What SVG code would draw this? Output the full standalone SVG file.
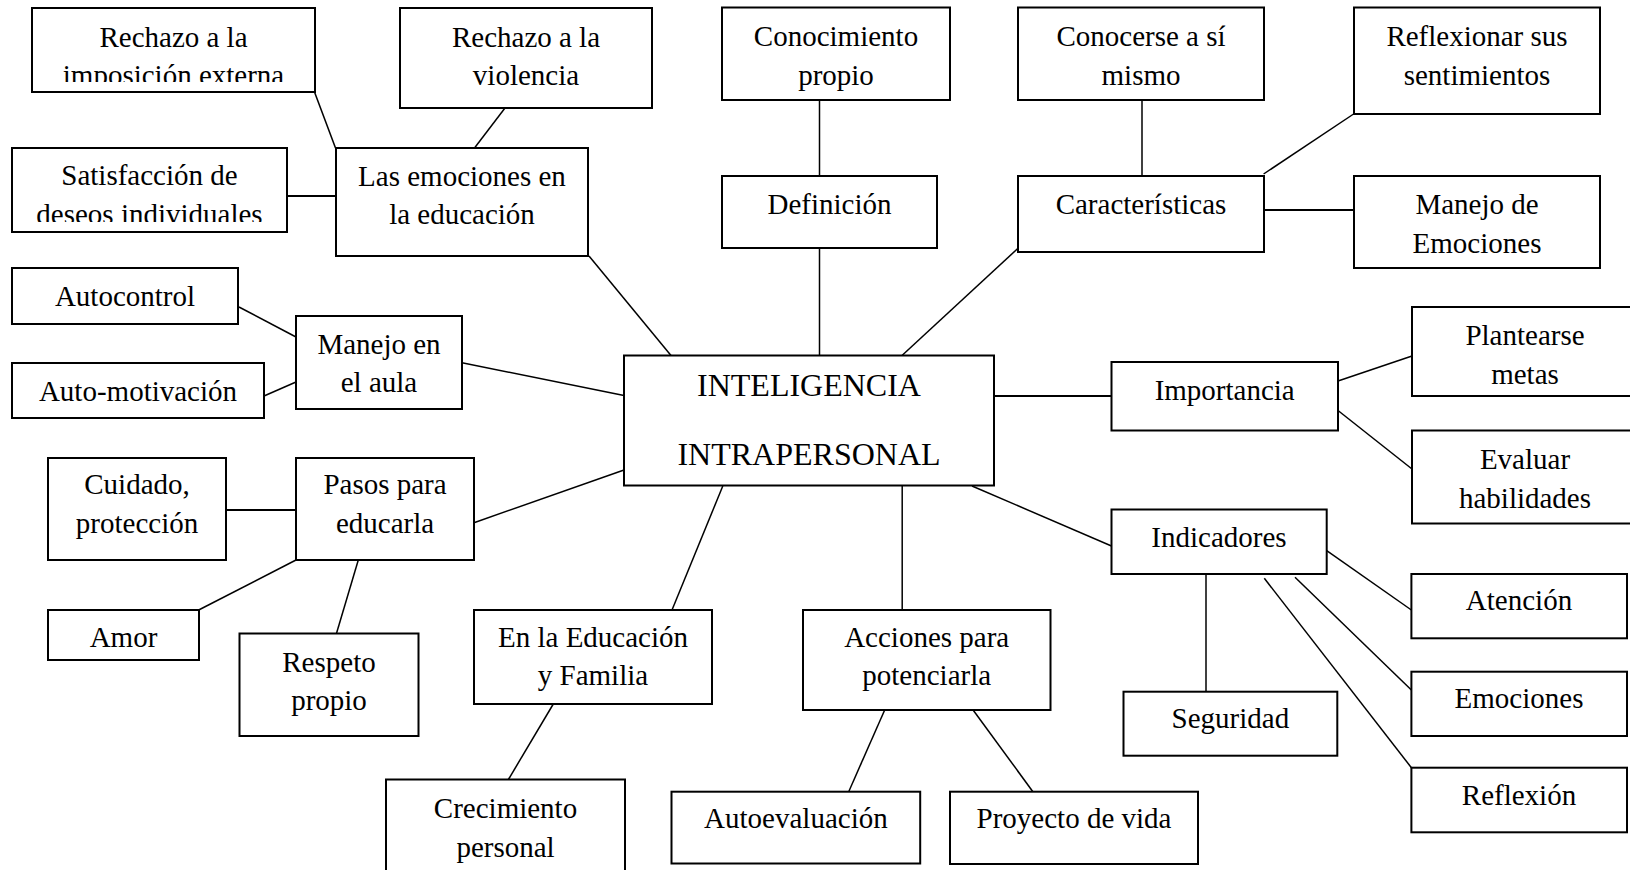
<svg xmlns="http://www.w3.org/2000/svg" width="1630" height="870" viewBox="0 0 1630 870">
<style>
.box{fill:#fff;stroke:#000;stroke-width:2}
.t{font-family:"Liberation Serif","Times New Roman",serif;font-size:29px;fill:#000;text-anchor:middle}
.big{font-size:32px}
.c line{stroke:#000;stroke-width:1.5}
</style>
<defs>
<clipPath id="clipImp"><rect x="32" y="8" width="283" height="74"/></clipPath>
<clipPath id="clipSat"><rect x="12" y="148" width="275" height="74"/></clipPath>
</defs>
<rect width="1630" height="870" fill="#fff"/>
<g class="c" id="connectors">
<line x1="314.5" y1="92" x2="335.5" y2="148"/>
<line x1="505" y1="108" x2="474.5" y2="148"/>
<line x1="287" y1="196" x2="336" y2="196" style="stroke-width:2"/>
<line x1="589" y1="256" x2="671" y2="355.5"/>
<line x1="239" y1="307" x2="296" y2="337"/>
<line x1="264" y1="396" x2="296" y2="382"/>
<line x1="462" y1="362.7" x2="624" y2="395.5"/>
<line x1="819.5" y1="100" x2="819.5" y2="176"/>
<line x1="819.5" y1="248" x2="819.5" y2="355.5"/>
<line x1="1142" y1="100" x2="1142" y2="176"/>
<line x1="1018" y1="248.3" x2="902" y2="355.5"/>
<line x1="1263.6" y1="174" x2="1353.6" y2="114"/>
<line x1="1264" y1="210" x2="1354" y2="210" style="stroke-width:2"/>
<line x1="990" y1="396" x2="1111.5" y2="396" style="stroke-width:2"/>
<line x1="1338" y1="381" x2="1412" y2="356"/>
<line x1="1338" y1="410.5" x2="1412" y2="469"/>
<line x1="972" y1="486" x2="1111.5" y2="546"/>
<line x1="1326.7" y1="550.7" x2="1411.4" y2="610"/>
<line x1="1206" y1="574" x2="1206" y2="691.7"/>
<line x1="1295" y1="577.3" x2="1411.4" y2="690"/>
<line x1="1264.3" y1="578.3" x2="1411.4" y2="767.7"/>
<line x1="902.2" y1="486" x2="902.2" y2="610"/>
<line x1="884.7" y1="710" x2="848.7" y2="791.7"/>
<line x1="973.1" y1="710" x2="1032.9" y2="791.7"/>
<line x1="722.8" y1="486" x2="672" y2="610"/>
<line x1="553.3" y1="704" x2="508.4" y2="779.5"/>
<line x1="226" y1="510" x2="296" y2="510" style="stroke-width:2"/>
<line x1="296" y1="560" x2="198.7" y2="610"/>
<line x1="358.3" y1="560" x2="336.3" y2="634"/>
<line x1="474" y1="522.7" x2="624" y2="470"/>
</g>
<g id="n_rechazo_imp"><rect class="box" x="32" y="8" width="283" height="84"/><g clip-path="url(#clipImp)"><text class="t" x="173.5" y="46.5">Rechazo a la</text><text class="t" x="173.5" y="85">imposición externa</text></g></g>
<g id="n_rechazo_vio"><rect class="box" x="400" y="8" width="252" height="100"/><text class="t" x="526" y="46.5">Rechazo a la</text><text class="t" x="526" y="85">violencia</text></g>
<g id="n_satisf"><rect class="box" x="12" y="148" width="275" height="84"/><g clip-path="url(#clipSat)"><text class="t" x="149.5" y="185">Satisfacción de</text><text class="t" x="149.5" y="223.5">deseos individuales</text></g></g>
<g id="n_emociones_edu"><rect class="box" x="336" y="148" width="252" height="108"/><text class="t" x="462" y="185.5">Las emociones en</text><text class="t" x="462" y="224">la educación</text></g>
<g id="n_conocimiento"><rect class="box" x="722" y="7.5" width="228" height="92.5"/><text class="t" x="836" y="46">Conocimiento</text><text class="t" x="836" y="84.5">propio</text></g>
<g id="n_conocerse"><rect class="box" x="1018" y="7.5" width="246" height="92.5"/><text class="t" x="1141" y="46">Conocerse a sí</text><text class="t" x="1141" y="84.5">mismo</text></g>
<g id="n_reflexionar"><rect class="box" x="1354" y="7.5" width="246" height="106.5"/><text class="t" x="1477" y="46">Reflexionar sus</text><text class="t" x="1477" y="84.5">sentimientos</text></g>
<g id="n_definicion"><rect class="box" x="722" y="176" width="215" height="72"/><text class="t" x="829.5" y="214">Definición</text></g>
<g id="n_caracteristicas"><rect class="box" x="1018" y="176" width="246" height="76"/><text class="t" x="1141" y="214">Características</text></g>
<g id="n_manejo_emociones"><rect class="box" x="1354" y="176" width="246" height="92"/><text class="t" x="1477" y="214">Manejo de</text><text class="t" x="1477" y="252.5">Emociones</text></g>
<g id="n_autocontrol"><rect class="box" x="12" y="268" width="226" height="56"/><text class="t" x="125" y="306">Autocontrol</text></g>
<g id="n_manejo_aula"><rect class="box" x="296" y="316" width="166" height="93"/><text class="t" x="379" y="353.5">Manejo en</text><text class="t" x="379" y="392">el aula</text></g>
<g id="n_automotivacion"><rect class="box" x="12" y="363" width="252" height="55"/><text class="t" x="138" y="401">Auto-motivación</text></g>
<g id="n_center"><rect class="box" x="624" y="355.5" width="370" height="130"/><text class="t big" x="809" y="396">INTELIGENCIA</text><text class="t big" x="809" y="465">INTRAPERSONAL</text></g>
<g id="n_importancia"><rect class="box" x="1111.5" y="362" width="226.5" height="68.5"/><text class="t" x="1224.7" y="400">Importancia</text></g>
<g id="n_plantearse"><rect class="box" x="1412" y="307" width="226" height="89"/><text class="t" x="1525" y="345">Plantearse</text><text class="t" x="1525" y="383.5">metas</text></g>
<g id="n_evaluar"><rect class="box" x="1412" y="430.5" width="226" height="93"/><text class="t" x="1525" y="469">Evaluar</text><text class="t" x="1525" y="507.5">habilidades</text></g>
<g id="n_cuidado"><rect class="box" x="48" y="458" width="178" height="102"/><text class="t" x="137" y="494">Cuidado,</text><text class="t" x="137" y="532.5">protección</text></g>
<g id="n_pasos"><rect class="box" x="296" y="458" width="178" height="102"/><text class="t" x="385" y="494">Pasos para</text><text class="t" x="385" y="532.5">educarla</text></g>
<g id="n_amor"><rect class="box" x="48" y="610" width="151" height="50"/><text class="t" x="123.5" y="646.5">Amor</text></g>
<g id="n_respeto"><rect class="box" x="239.5" y="633.5" width="179" height="102.5"/><text class="t" x="329" y="671.5">Respeto</text><text class="t" x="329" y="710">propio</text></g>
<g id="n_educacion_familia"><rect class="box" x="474" y="610" width="238" height="94"/><text class="t" x="593" y="646.5">En la Educación</text><text class="t" x="593" y="685">y Familia</text></g>
<g id="n_crecimiento"><rect class="box" x="386" y="779.5" width="239" height="100"/><text class="t" x="505.5" y="818.3">Crecimiento</text><text class="t" x="505.5" y="856.8">personal</text></g>
<g id="n_acciones"><rect class="box" x="803" y="610" width="247.5" height="100"/><text class="t" x="926.7" y="646.5">Acciones para</text><text class="t" x="926.7" y="685">potenciarla</text></g>
<g id="n_autoevaluacion"><rect class="box" x="671.5" y="791.7" width="248.7" height="71.8"/><text class="t" x="795.9" y="828.3">Autoevaluación</text></g>
<g id="n_proyecto"><rect class="box" x="950" y="791.7" width="248" height="72.3"/><text class="t" x="1074" y="828.3">Proyecto de vida</text></g>
<g id="n_indicadores"><rect class="box" x="1111.5" y="509.5" width="215.2" height="64.5"/><text class="t" x="1219" y="546.5">Indicadores</text></g>
<g id="n_seguridad"><rect class="box" x="1123.5" y="691.7" width="213.8" height="64"/><text class="t" x="1230.4" y="728.3">Seguridad</text></g>
<g id="n_atencion"><rect class="box" x="1411.4" y="574" width="215.6" height="64.3"/><text class="t" x="1519" y="610">Atención</text></g>
<g id="n_emociones"><rect class="box" x="1411.4" y="671.7" width="215.6" height="64.3"/><text class="t" x="1519" y="708.3">Emociones</text></g>
<g id="n_reflexion"><rect class="box" x="1411.4" y="767.7" width="215.6" height="64.6"/><text class="t" x="1519" y="805">Reflexión</text></g>
</svg>
